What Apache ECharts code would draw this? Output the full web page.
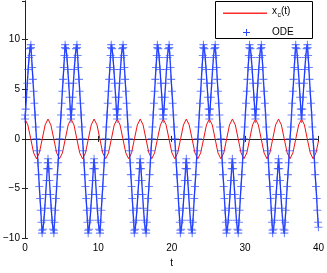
<!DOCTYPE html>
<html><head><meta charset="utf-8">
<script src="https://cdn.jsdelivr.net/npm/echarts@6/dist/echarts.min.js"></script>
<style>html,body{margin:0;padding:0;background:#fff}#c{width:327px;height:273px}</style>
</head><body><div id="c"></div>
<script>
// x_c(t) samples
const redT = [0,0.39,0.79,1.18,1.57,1.96,2.36,2.75,3.14,3.53,3.93,4.32,4.71,5.11,5.50,5.89,
6.28,6.68,7.07,7.46,7.85,8.25,8.64,9.03,9.42,9.82,10.21,10.60,11.00,11.39,11.78,12.17,
12.57,12.96,13.35,13.74,14.14,14.53,14.92,15.32,15.71,16.10,16.49,16.89,17.28,17.67,18.06,18.46,
18.85,19.24,19.63,20.03,20.42,20.81,21.21,21.60,21.99,22.38,22.78,23.17,23.56,23.95,24.35,24.74,
25.13,25.53,25.92,26.31,26.70,27.10,27.49,27.88,28.27,28.67,29.06,29.45,29.85,30.24,30.63,31.02,
31.42,31.81,32.20,32.59,32.99,33.38,33.77,34.16,34.56,34.95,35.34,35.74,36.13,36.52,36.91,37.31,
37.70,38.09,38.48,38.88,39.27,39.66,40.00];
const redY = [2,1.41,0,-1.41,-2,-1.41,0,1.41,2,1.41,0,-1.41,-2,-1.41,0,1.41,
2,1.41,0,-1.41,-2,-1.41,0,1.41,2,1.41,0,-1.41,-2,-1.41,0,1.41,
2,1.41,0,-1.41,-2,-1.41,0,1.41,2,1.41,0,-1.41,-2,-1.41,0,1.41,
2,1.41,0,-1.41,-2,-1.41,0,1.41,2,1.41,0,-1.41,-2,-1.41,0,1.41,
2,1.41,0,-1.41,-2,-1.41,0,1.41,2,1.41,0,-1.41,-2,-1.41,0,1.41,
2,1.41,0,-1.41,-2,-1.41,0,1.41,2,1.41,0,-1.41,-2,-1.41,0,1.41,
2,1.41,0,-1.41,-2,-1.41,-0.22];

// ODE solution samples
const odeT = [
0,0.04,0.10,0.20,0.32,0.44,0.56,0.68,0.80,0.82,0.89,0.99,1.08,1.18,1.28,1.38,1.47,1.57,1.67,1.77,1.86,1.96,2.06,2.15,2.25,2.32,2.34,2.46,2.58,2.70,2.82,2.94,3.04,3.10,3.14,3.18,3.24,3.34,3.46,3.58,3.70,3.82,3.94,3.96,4.03,4.13,4.22,4.32,4.42,4.52,4.61,4.71,4.81,4.91,5.00,5.10,5.20,5.29,5.39,5.46,5.48,5.60,5.72,5.84,5.96,6.08,6.18,6.24,
6.28,6.32,6.38,6.48,6.60,6.72,6.84,6.96,7.08,7.10,7.17,7.27,7.36,7.46,7.56,7.66,7.75,7.85,7.95,8.05,8.14,8.24,8.34,8.43,8.53,8.60,8.62,8.74,8.86,8.98,9.10,9.22,9.32,9.38,9.42,9.46,9.52,9.62,9.74,9.86,9.98,10.10,10.22,10.24,10.31,10.41,10.50,10.60,10.70,10.80,10.89,10.99,11.09,11.19,11.28,11.38,11.48,11.57,11.67,11.74,11.76,11.88,12.00,12.12,12.24,12.36,12.46,12.52,
12.57,12.61,12.67,12.77,12.89,13.01,13.13,13.25,13.37,13.39,13.46,13.56,13.65,13.75,13.85,13.95,14.04,14.14,14.24,14.34,14.43,14.53,14.63,14.72,14.82,14.89,14.91,15.03,15.15,15.27,15.39,15.51,15.61,15.67,15.71,15.75,15.81,15.91,16.03,16.15,16.27,16.39,16.51,16.53,16.60,16.70,16.79,16.89,16.99,17.09,17.18,17.28,17.38,17.48,17.57,17.67,17.77,17.86,17.96,18.03,18.05,18.17,18.29,18.41,18.53,18.65,18.75,18.81,
18.85,18.89,18.95,19.05,19.17,19.29,19.41,19.53,19.65,19.67,19.74,19.84,19.93,20.03,20.13,20.23,20.32,20.42,20.52,20.62,20.71,20.81,20.91,21.00,21.10,21.17,21.19,21.31,21.43,21.55,21.67,21.79,21.89,21.95,21.99,22.03,22.09,22.19,22.31,22.43,22.55,22.67,22.79,22.81,22.88,22.98,23.07,23.17,23.27,23.37,23.46,23.56,23.66,23.76,23.85,23.95,24.05,24.14,24.24,24.31,24.33,24.45,24.57,24.69,24.81,24.93,25.03,25.09,
25.13,25.17,25.23,25.33,25.45,25.57,25.69,25.81,25.93,25.95,26.02,26.12,26.21,26.31,26.41,26.51,26.60,26.70,26.80,26.90,26.99,27.09,27.19,27.28,27.38,27.45,27.47,27.59,27.71,27.83,27.95,28.07,28.17,28.23,28.27,28.31,28.37,28.47,28.59,28.71,28.83,28.95,29.07,29.09,29.16,29.26,29.35,29.45,29.55,29.65,29.74,29.84,29.94,30.04,30.13,30.23,30.33,30.42,30.52,30.59,30.61,30.73,30.85,30.97,31.09,31.21,31.31,31.37,
31.42,31.46,31.52,31.62,31.74,31.86,31.98,32.10,32.22,32.24,32.31,32.41,32.50,32.60,32.70,32.80,32.89,32.99,33.09,33.19,33.28,33.38,33.48,33.57,33.67,33.74,33.76,33.88,34.00,34.12,34.24,34.36,34.46,34.52,34.56,34.60,34.66,34.76,34.88,35.00,35.12,35.24,35.36,35.38,35.45,35.55,35.64,35.74,35.84,35.94,36.03,36.13,36.23,36.33,36.42,36.52,36.62,36.71,36.81,36.88,36.90,37.02,37.14,37.26,37.38,37.50,37.60,37.66,
37.70,37.74,37.80,37.90,38.02,38.14,38.26,38.38,38.50,38.52,38.59,38.69,38.78,38.88,38.98,39.08,39.17,39.27,39.37,39.47,39.56,39.66,39.76,39.85,39.95,40.00];
const odeV = [
2.0,2.4,3.0,4.2,5.6,7.0,8.2,9.1,9.5,9.2,8.4,7.2,6.0,4.8,3.6,2.4,1.2,0,-1.2,-2.4,-3.6,-4.8,-6.0,-7.2,-8.4,-9.2,-9.5,-9.1,-8.2,-7.0,-5.6,-4.2,-3.0,-2.4,-2.0,-2.4,-3.0,-4.2,-5.6,-7.0,-8.2,-9.1,-9.5,-9.2,-8.4,-7.2,-6.0,-4.8,-3.6,-2.4,-1.2,0,1.2,2.4,3.6,4.8,6.0,7.2,8.4,9.2,9.5,9.1,8.2,7.0,5.6,4.2,3.0,2.4,
2.0,2.4,3.0,4.2,5.6,7.0,8.2,9.1,9.5,9.2,8.4,7.2,6.0,4.8,3.6,2.4,1.2,0,-1.2,-2.4,-3.6,-4.8,-6.0,-7.2,-8.4,-9.2,-9.5,-9.1,-8.2,-7.0,-5.6,-4.2,-3.0,-2.4,-2.0,-2.4,-3.0,-4.2,-5.6,-7.0,-8.2,-9.1,-9.5,-9.2,-8.4,-7.2,-6.0,-4.8,-3.6,-2.4,-1.2,0,1.2,2.4,3.6,4.8,6.0,7.2,8.4,9.2,9.5,9.1,8.2,7.0,5.6,4.2,3.0,2.4,
2.0,2.4,3.0,4.2,5.6,7.0,8.2,9.1,9.5,9.2,8.4,7.2,6.0,4.8,3.6,2.4,1.2,0,-1.2,-2.4,-3.6,-4.8,-6.0,-7.2,-8.4,-9.2,-9.5,-9.1,-8.2,-7.0,-5.6,-4.2,-3.0,-2.4,-2.0,-2.4,-3.0,-4.2,-5.6,-7.0,-8.2,-9.1,-9.5,-9.2,-8.4,-7.2,-6.0,-4.8,-3.6,-2.4,-1.2,0,1.2,2.4,3.6,4.8,6.0,7.2,8.4,9.2,9.5,9.1,8.2,7.0,5.6,4.2,3.0,2.4,
2.0,2.4,3.0,4.2,5.6,7.0,8.2,9.1,9.5,9.2,8.4,7.2,6.0,4.8,3.6,2.4,1.2,0,-1.2,-2.4,-3.6,-4.8,-6.0,-7.2,-8.4,-9.2,-9.5,-9.1,-8.2,-7.0,-5.6,-4.2,-3.0,-2.4,-2.0,-2.4,-3.0,-4.2,-5.6,-7.0,-8.2,-9.1,-9.5,-9.2,-8.4,-7.2,-6.0,-4.8,-3.6,-2.4,-1.2,0,1.2,2.4,3.6,4.8,6.0,7.2,8.4,9.2,9.5,9.1,8.2,7.0,5.6,4.2,3.0,2.4,
2.0,2.4,3.0,4.2,5.6,7.0,8.2,9.1,9.5,9.2,8.4,7.2,6.0,4.8,3.6,2.4,1.2,0,-1.2,-2.4,-3.6,-4.8,-6.0,-7.2,-8.4,-9.2,-9.5,-9.1,-8.2,-7.0,-5.6,-4.2,-3.0,-2.4,-2.0,-2.4,-3.0,-4.2,-5.6,-7.0,-8.2,-9.1,-9.5,-9.2,-8.4,-7.2,-6.0,-4.8,-3.6,-2.4,-1.2,0,1.2,2.4,3.6,4.8,6.0,7.2,8.4,9.2,9.5,9.1,8.2,7.0,5.6,4.2,3.0,2.4,
2.0,2.4,3.0,4.2,5.6,7.0,8.2,9.1,9.5,9.2,8.4,7.2,6.0,4.8,3.6,2.4,1.2,0,-1.2,-2.4,-3.6,-4.8,-6.0,-7.2,-8.4,-9.2,-9.5,-9.1,-8.2,-7.0,-5.6,-4.2,-3.0,-2.4,-2.0,-2.4,-3.0,-4.2,-5.6,-7.0,-8.2,-9.1,-9.5,-9.2,-8.4,-7.2,-6.0,-4.8,-3.6,-2.4,-1.2,0,1.2,2.4,3.6,4.8,6.0,7.2,8.4,9.2,9.5,9.1,8.2,7.0,5.6,4.2,3.0,2.4,
2.0,2.4,3.0,4.2,5.6,7.0,8.2,9.1,9.5,9.2,8.4,7.2,6.0,4.8,3.6,2.4,1.2,0,-1.2,-2.4,-3.6,-4.8,-6.0,-7.2,-8.4,-8.9];

const xTicks = [0, 10, 20, 30, 40];
const yTicks = [-10, -5, 0, 5, 10];
const seriesNames = ['x_c(t)', 'ODE'];

const FONT = '"Liberation Sans", Arial, Helvetica, sans-serif';
const RED = '#f01010';
const BLUE = '#1a36ff';
const redData = redT.map((t, i) => [t, redY[i]]);
const odeData = odeT.map((t, i) => [t, odeV[i]]);
const plusPath = 'path://M2.6,0H3.4V2.6H6V3.4H3.4V6H2.6V3.4H0V2.6H2.6Z';
const fmtY = v => (v < 0 ? '\u2212' + Math.abs(v) : String(v));

const chart = echarts.init(document.getElementById('c'), null, {renderer: 'canvas'});
const axisCommon = {
  axisLine: {show: true, lineStyle: {color: '#222', width: 1}},
  axisTick: {show: true, inside: true, length: 3, lineStyle: {color: '#222'}},
  splitLine: {show: false}
};
chart.setOption({
  animation: false,
  backgroundColor: '#fff',
  grid: {left: 23, right: 7, top: 1, bottom: 29, containLabel: false},
  xAxis: [
    Object.assign({type: 'value', min: xTicks[0], max: xTicks[xTicks.length - 1], interval: 10,
      name: 't', nameLocation: 'middle', nameGap: 18,
      nameTextStyle: {fontFamily: FONT, fontSize: 10, color: '#000'},
      axisLabel: {fontFamily: FONT, fontSize: 10, color: '#000', margin: 5}}, axisCommon),
    Object.assign({type: 'value', position: 'top', min: 0, max: 40, interval: 10,
      axisLabel: {show: false}}, axisCommon)
  ],
  yAxis: [
    Object.assign({type: 'value', min: yTicks[0], max: 13.9, interval: 5,
      axisLabel: {fontFamily: FONT, fontSize: 10, color: '#000', margin: 5, showMaxLabel: false,
        formatter: v => (yTicks.indexOf(v) >= 0 ? fmtY(v) : '')}}, axisCommon),
    Object.assign({type: 'value', position: 'right', min: -10, max: 13.9, interval: 5,
      axisLabel: {show: false}}, axisCommon)
  ],
  series: [
    {name: seriesNames[0], type: 'line', data: redData, showSymbol: false, symbol: 'none',
      lineStyle: {color: RED, width: 1}, z: 2},
    {name: seriesNames[1], type: 'line', data: odeData, symbol: plusPath, symbolSize: 8,
      showAllSymbol: true, sampling: null,
      itemStyle: {color: 'rgba(50,80,255,0.7)'},
      lineStyle: {color: BLUE, width: 1.3}, z: 3}
  ],
  graphic: {
    elements: [
      {type: 'group', z: 100, children: [
        {type: 'rect', shape: {x: 215.5, y: 1.5, width: 97, height: 37},
          style: {fill: '#ffffff', stroke: '#000000', lineWidth: 1}},
        {type: 'rect', shape: {x: 223, y: 12.5, width: 44, height: 1.5},
          style: {fill: '#ff2a2a', stroke: null}},
        {type: 'text', x: 272, y: 11.5,
          style: {text: 'x', font: '10px ' + FONT, fill: '#000', verticalAlign: 'middle'}},
        {type: 'text', x: 277.5, y: 15,
          style: {text: 'c', font: '7px ' + FONT, fill: '#000', verticalAlign: 'middle'}},
        {type: 'text', x: 281, y: 11.5,
          style: {text: '(t)', font: '10px ' + FONT, fill: '#000', verticalAlign: 'middle'}},
        {type: 'rect', shape: {x: 243, y: 32, width: 7, height: 1},
          style: {fill: '#2846ff', stroke: null}},
        {type: 'rect', shape: {x: 246, y: 29, width: 1, height: 7},
          style: {fill: '#2846ff', stroke: null}},
        {type: 'text', x: 272, y: 32.5,
          style: {text: 'ODE', font: '10px ' + FONT, fill: '#000', verticalAlign: 'middle'}}
      ]}
    ]
  }
});
</script></body></html>
